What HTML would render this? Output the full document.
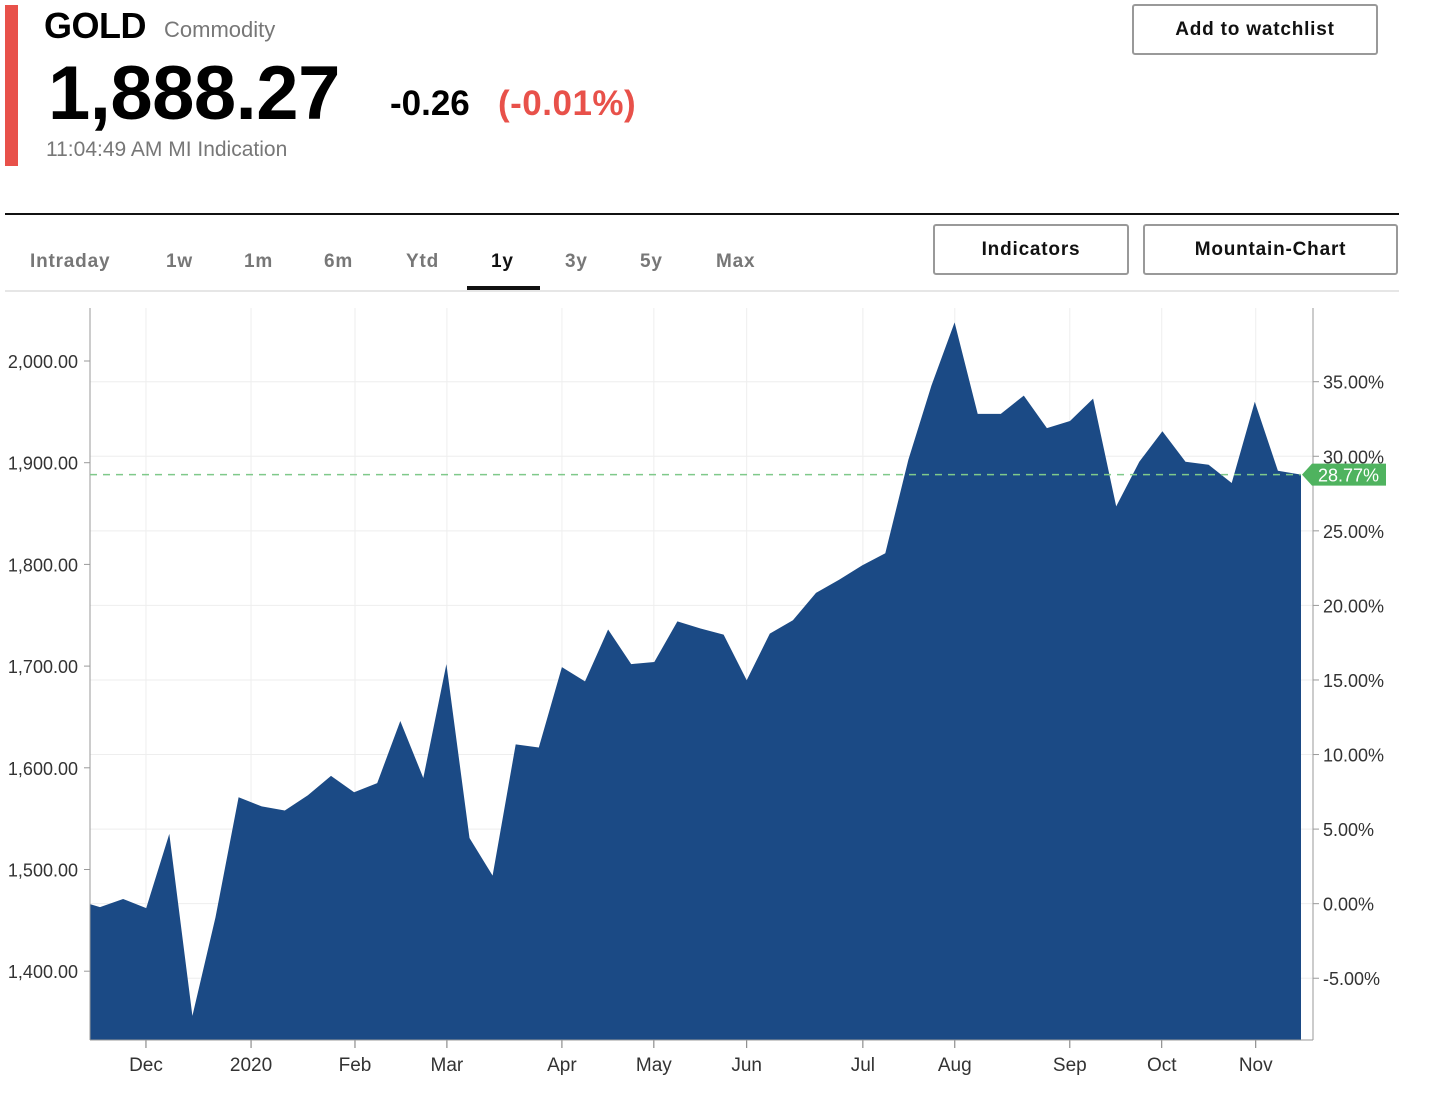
<!DOCTYPE html>
<html><head><meta charset="utf-8"><style>
body{margin:0;width:1440px;height:1096px;background:#fff;font-family:"Liberation Sans",sans-serif;position:relative;overflow:hidden}
.a{position:absolute}
.tab{position:absolute;top:251px;font-size:19px;font-weight:bold;color:#777;letter-spacing:0.8px}
.btn{position:absolute;border:2px solid #999;border-radius:3px;background:#fff;font-weight:bold;font-size:19px;color:#111;text-align:center;box-sizing:border-box;letter-spacing:0.8px}
</style></head><body>
<div class="a" style="left:5px;top:5px;width:13px;height:161px;background:#e8514a"></div>
<div class="a" style="left:44px;top:5px;font-size:36px;font-weight:bold;letter-spacing:-0.5px">GOLD</div>
<div class="a" style="left:164px;top:17px;font-size:22px;color:#777">Commodity</div>
<div class="a" style="left:48px;top:50px;font-size:76px;font-weight:bold;letter-spacing:-0.5px">1,888.27</div>
<div class="a" style="left:390px;top:84px;font-size:35px;font-weight:bold;letter-spacing:0px">-0.26</div>
<div class="a" style="left:498px;top:84px;font-size:35px;font-weight:bold;color:#e8514a;letter-spacing:0.5px">(-0.01%)</div>
<div class="a" style="left:46px;top:138px;font-size:21px;color:#777">11:04:49 AM MI Indication</div>
<div class="btn" style="left:1132px;top:4px;width:246px;height:51px;line-height:47px">Add to watchlist</div>
<div class="a" style="left:5px;top:213px;width:1394px;height:2px;background:#111"></div>
<div class="tab" style="left:30px">Intraday</div>
<div class="tab" style="left:166px">1w</div>
<div class="tab" style="left:244px">1m</div>
<div class="tab" style="left:324px">6m</div>
<div class="tab" style="left:406px">Ytd</div>
<div class="tab" style="left:491px;color:#111">1y</div>
<div class="tab" style="left:565px">3y</div>
<div class="tab" style="left:640px">5y</div>
<div class="tab" style="left:716px">Max</div>
<div class="a" style="left:467px;top:286px;width:73px;height:4px;background:#111"></div>
<div class="a" style="left:5px;top:290px;width:1394px;height:2px;background:#e6e6e6"></div>
<div class="btn" style="left:933px;top:224px;width:196px;height:51px;line-height:47px">Indicators</div>
<div class="btn" style="left:1143px;top:224px;width:255px;height:51px;line-height:47px">Mountain-Chart</div>
<svg id="chart" class="a" style="left:0;top:0" width="1440" height="1096"></svg>
<script>
const months=["Dec","2020","Feb","Mar","Apr","May","Jun","Jul","Aug","Sep","Oct","Nov"];
const monthIndex=[2.99,7.54,12.04,16.02,21.0,24.98,29.0,34.03,38.01,42.99,46.97,51.04];
const prices=[1466,1463,1471,1462,1535,1356,1453,1571,1562,1558,1573,1592,1576,1585,1646,1590,1702,1531,1494,1623,1620,1699,1685,1736,1702,1704,1744,1737,1731,1686,1732,1745,1772,1785,1799,1811,1903,1976,2038,1948,1948,1966,1934,1941,1963,1857,1901,1931,1901,1898,1880,1960,1892,1888.27];
const leftTicks=[1400,1500,1600,1700,1800,1900,2000];
const rightTicks=[-5,0,5,10,15,20,25,30,35];
const basePrice=1466.4;
const lastLabel="28.77%";
const svg=document.getElementById('chart');const NS="http://www.w3.org/2000/svg";
const X0=90,X1=1313,XE=1301,Y0=308,Y1=1040;
const xs=i=>i<1?X0+i*10:X0+10+(i-1)*(XE-X0-10)/(prices.length-2);
const ys=p=>361+(2000-p)*1.017;
function mk(t,a,txt){const e=document.createElementNS(NS,t);for(const k in a)e.setAttribute(k,a[k]);if(txt!==undefined)e.textContent=txt;svg.appendChild(e);return e;}
rightTicks.forEach(t=>{const y=ys(basePrice*(1+t/100));
const g=mk('line',{x1:X0,x2:X1,y1:y,y2:y,stroke:'#eee'});


const l=mk('text',{x:1323,y:y+7,'font-size':18,fill:'#333'},t.toFixed(2)+'%');


mk('line',{x1:X1,x2:X1+6,y1:y,y2:y,stroke:'#999'});});
months.forEach((m,k)=>{const x=xs(monthIndex[k]);
const g=mk('line',{x1:x,x2:x,y1:Y0,y2:Y1,stroke:'#eee'});


mk('line',{x1:x,x2:x,y1:Y1,y2:Y1+8,stroke:'#777'});
const l=mk('text',{x:x,y:1071,'font-size':19,fill:'#333','text-anchor':'middle'},m);

});
let d='M'+xs(0)+','+Y1;prices.forEach((p,i)=>d+=' L'+xs(i).toFixed(1)+','+ys(p).toFixed(1));d+=' L'+xs(prices.length-1)+','+Y1+' Z';
const area=mk('path',{d:d,fill:'#1b4a85'});


leftTicks.forEach(t=>{const y=ys(t);
mk('line',{x1:X0-6,x2:X0,y1:y,y2:y,stroke:'#999'});
const l=mk('text',{x:78,y:y+7,'font-size':18,fill:'#333','text-anchor':'end'},t.toLocaleString('en-US',{minimumFractionDigits:2}));

});
mk('line',{x1:X0,x2:X0,y1:Y0,y2:Y1,stroke:'#999'});
mk('line',{x1:X1,x2:X1,y1:Y0,y2:Y1,stroke:'#999'});
mk('line',{x1:X0,x2:X1,y1:Y1,y2:Y1,stroke:'#999'});
const ly=ys(prices[prices.length-1]);
const dl=mk('line',{x1:X0,x2:XE,y1:ly,y2:ly,stroke:'#7fc98a','stroke-dasharray':'7,6','stroke-width':1.5});


const tag=mk('path',{d:`M1302,${ly} L1312,${ly-11} L1386,${ly-11} L1386,${ly+11} L1312,${ly+11} Z`,fill:'#4fb35f'});


const tt=mk('text',{x:1318,y:ly+7,'font-size':18,fill:'#fff'},lastLabel);


</script>
</body></html>
